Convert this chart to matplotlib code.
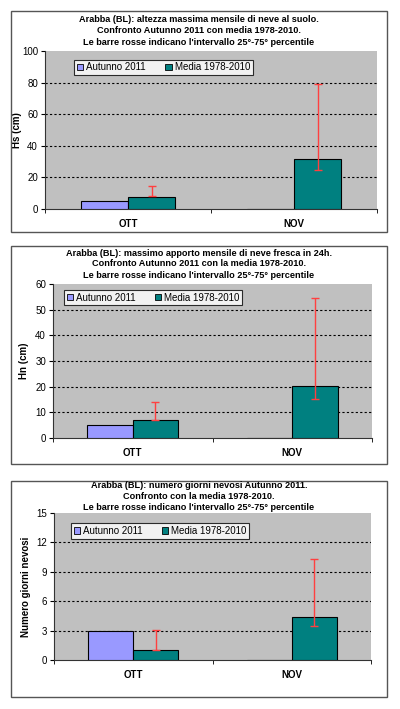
import matplotlib.pyplot as plt
from matplotlib.patches import Rectangle, Patch
import numpy as np

plt.rcParams['font.family'] = ['Liberation Sans', 'DejaVu Sans']

months = ['OTT', 'NOV']
series_names = ['Autunno 2011', 'Media 1978-2010']

# Hs - altezza massima mensile
hs_2011 = [5.0, 0.0]
hs_media = [7.6, 31.5]
hs_p25 = [8.0, 24.8]
hs_p75 = [14.8, 78.8]

# Hn - massimo apporto in 24h
hn_2011 = [5.2, 0.0]
hn_media = [7.2, 20.4]
hn_p25 = [7.0, 15.2]
hn_p75 = [14.2, 54.5]

# giorni nevosi
gg_2011 = [3.0, 0.0]
gg_media = [1.0, 4.4]
gg_p25 = [1.0, 3.45]
gg_p75 = [3.1, 10.35]

panels = [
    dict(title=["Arabba (BL): altezza massima mensile di neve al suolo.",
                "Confronto Autunno 2011 con media 1978-2010.",
                "Le barre rosse indicano l'intervallo 25°-75° percentile"],
         title_y=19, title_dy=11.8,
         ylabel='Hs (cm)', a=hs_2011, m=hs_media, lo=hs_p25, hi=hs_p75,
         ymax=100, step=20, ylab_x=22,
         box=(11, 11, 387, 232), ax=(45, 51, 377, 209), leg=(73, 61, 254, 74)),
    dict(title=["Arabba (BL): massimo apporto mensile di neve fresca in 24h.",
                "Confronto Autunno 2011 con la media 1978-2010.",
                "Le barre rosse indicano l'intervallo 25°-75° percentile"],
         title_y=253, title_dy=11,
         ylabel='Hn (cm)', a=hn_2011, m=hn_media, lo=hn_p25, hi=hn_p75,
         ymax=60, step=10, ylab_x=29,
         box=(11, 246, 387, 464), ax=(53, 284, 372, 438), leg=(68, 290, 238, 305)),
    dict(title=["Arabba (BL): numero giorni nevosi Autunno 2011.",
                "Confronto con la media 1978-2010.",
                "Le barre rosse indicano l'intervallo 25°-75° percentile"],
         title_y=486, title_dy=10.5,
         ylabel='Numero giorni nevosi', a=gg_2011, m=gg_media, lo=gg_p25, hi=gg_p75,
         ymax=15, step=3, ylab_x=31,
         box=(11, 481, 387, 697), ax=(54, 513, 371, 660), leg=(69, 523, 251, 539)),
]

W, H = 400, 709
fig = plt.figure(figsize=(W / 100, H / 100), dpi=100)
fig.patch.set_facecolor('white')

c_2011 = '#9999FF'
c_media = '#008080'
bw = 0.285

for p in panels:
    x0, y0, x1, y1 = p['box']
    fig.patches.append(Rectangle((x0 / W, 1 - y1 / H), (x1 - x0) / W, (y1 - y0) / H,
                                 transform=fig.transFigure, fill=False,
                                 edgecolor='#555555', linewidth=1.0))
    for i, line in enumerate(p['title']):
        fig.text((x0 + x1) / 2 / W, 1 - (p['title_y'] + i * p['title_dy']) / H, line,
                 ha='center', va='center', fontsize=6.6, fontweight='bold')

    l, t, r, b = p['ax']
    ax = fig.add_axes([l / W, 1 - b / H, (r - l) / W, (b - t) / H])
    ax.set_facecolor('#C0C0C0')
    x = np.arange(len(months))
    ax.bar(x - bw / 2, p['a'], bw, color=c_2011, edgecolor='black', linewidth=0.8,
           label=series_names[0], zorder=3)
    ax.bar(x + bw / 2, p['m'], bw, color=c_media, edgecolor='black', linewidth=0.8,
           label=series_names[1], zorder=3)
    lo = np.array(p['lo'])
    hi = np.array(p['hi'])
    ax.errorbar(x + bw / 2, (lo + hi) / 2, yerr=(hi - lo) / 2, fmt='none',
                ecolor='#FF4040', elinewidth=1.0, capsize=3, capthick=1.0, zorder=4)

    ax.set_xlim(-0.5, 1.5)
    ax.set_ylim(0, p['ymax'])
    ticks = np.arange(0, p['ymax'] + 0.01, p['step'])
    ax.set_yticks(ticks)
    ax.set_yticklabels([f'{v:g}' for v in ticks], fontsize=7)
    for v in ticks[1:-1]:
        ax.axhline(v, color='black', linestyle=(0, (2, 2)), linewidth=0.8, zorder=1)
    ax.set_xticks(x)
    ax.set_xticklabels(months, fontsize=7, fontweight='bold')
    ax.tick_params(axis='x', which='major', length=0, pad=7)
    ax.set_xticks([-0.5, 0.5, 1.5], minor=True)
    ax.tick_params(axis='x', which='minor', length=3, direction='out')
    ax.tick_params(axis='y', length=3, direction='out', pad=2)
    for s in ['top', 'right']:
        ax.spines[s].set_visible(False)
    for s in ['left', 'bottom']:
        ax.spines[s].set_color('#333333')
        ax.spines[s].set_linewidth(0.8)
    ax.set_ylabel(p['ylabel'], fontsize=7, fontweight='bold')
    ax.yaxis.set_label_coords((p['ylab_x'] - l) / (r - l), 0.5)

    lx0, ly0, lx1, ly1 = p['leg']
    handles = [Patch(facecolor=c_2011, edgecolor='black', linewidth=0.6),
               Patch(facecolor=c_media, edgecolor='black', linewidth=0.6)]
    leg = ax.legend(handles, series_names, ncol=2, fontsize=7,
                    loc='center', bbox_to_anchor=(((lx0 + lx1) / 2 - l) / (r - l),
                                                  1 - ((ly0 + ly1) / 2 - t) / (b - t)),
                    frameon=True, fancybox=False, handlelength=0.65, handleheight=0.65,
                    handletextpad=0.3, columnspacing=2.0, borderpad=0.3)
    leg.get_frame().set_edgecolor('black')
    leg.get_frame().set_linewidth(0.8)
    leg.set_zorder(5)

fig.savefig('out.png', dpi=100)
